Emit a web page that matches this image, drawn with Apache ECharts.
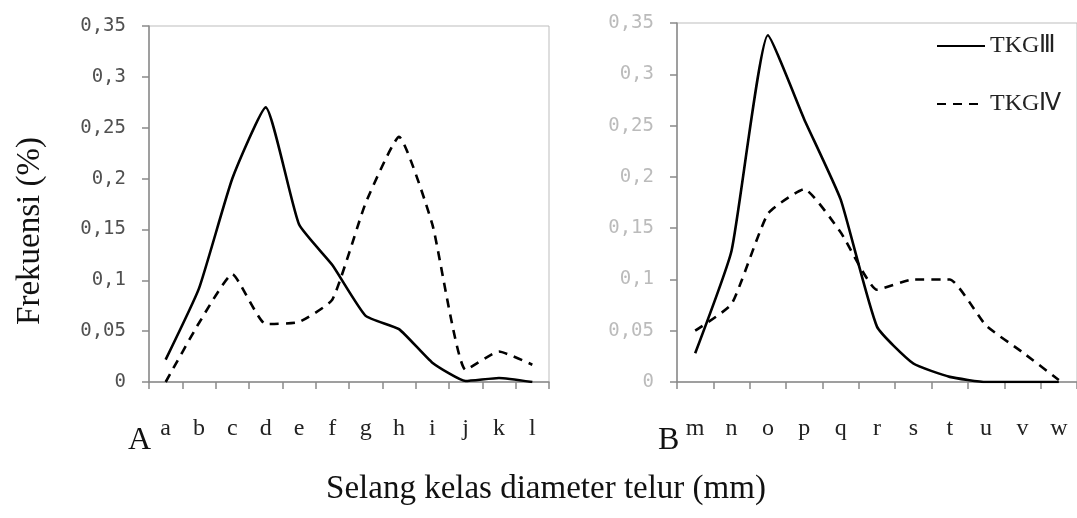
<!DOCTYPE html>
<html>
<head>
<meta charset="utf-8">
<script src="https://cdn.jsdelivr.net/npm/echarts@6/dist/echarts.min.js"></script>
<style>
  html, body { margin: 0; padding: 0; background: #fff; }
  #chart { width: 1077px; height: 518px; }
</style>
</head>
<body>
<div id="chart"></div>
<script>
  // kelas diameter, panel A dan B
  var catsA = ['a', 'b', 'c', 'd', 'e', 'f', 'g', 'h', 'i', 'j', 'k', 'l'];
  var catsB = ['m', 'n', 'o', 'p', 'q', 'r', 's', 't', 'u', 'v', 'w'];

  // frekuensi (%)
  var tkg1 = [0.022, 0.092, 0.2, 0.27, 0.155, 0.115, 0.065, 0.052, 0.019, 0.001, 0.004, 0.0];
  var tkg2 = [0.0, 0.058, 0.106, 0.057, 0.059, 0.081, 0.176, 0.241, 0.155, 0.012, 0.03, 0.017];
  var tkg3 = [0.028, 0.128, 0.338, 0.256, 0.178, 0.054, 0.018, 0.005, 0.0, 0.0, 0.0];
  var tkg4 = [0.05, 0.076, 0.164, 0.188, 0.146, 0.09, 0.1, 0.1, 0.055, 0.029, 0.002];

  var yMin = 0, yMax = 0.35, yStep = 0.05;

  var serif = '"Liberation Serif", "Times New Roman", serif';
  var mono = '"DejaVu Sans Mono", monospace';

  function fmt(v) {
    return String(+v.toFixed(2)).replace('.', ',');
  }

  function yAxisOf(idx, labelColor) {
    return {
      type: 'value',
      gridIndex: idx,
      min: yMin,
      max: yMax,
      interval: yStep,
      splitLine: { show: false },
      axisLine: { show: true, lineStyle: { color: '#8a8a8a', width: 1.5 } },
      axisTick: { show: true, length: 7, lineStyle: { color: '#8a8a8a', width: 1.5 } },
      axisLabel: {
        formatter: fmt,
        color: labelColor,
        fontFamily: mono,
        fontSize: 19,
        margin: 23
      }
    };
  }

  function xAxisOf(idx, cats) {
    return {
      type: 'category',
      gridIndex: idx,
      data: cats,
      boundaryGap: true,
      axisLine: { show: true, lineStyle: { color: '#8a8a8a', width: 1.5 } },
      axisTick: { show: true, length: 7, alignWithLabel: false, lineStyle: { color: '#8a8a8a', width: 1.5 } },
      axisLabel: {
        color: '#222',
        fontFamily: serif,
        fontSize: 24,
        margin: 35,
        interval: 0
      }
    };
  }

  function lineOf(name, idx, data, dashed) {
    return {
      name: name,
      type: 'line',
      xAxisIndex: idx,
      yAxisIndex: idx,
      data: data,
      smooth: 0.15,
      symbol: 'none',
      showSymbol: false,
      lineStyle: {
        color: '#000',
        width: 2.6,
        type: dashed ? [9, 7] : 'solid'
      },
      itemStyle: { color: '#000' }
    };
  }

  var chart = echarts.init(document.getElementById('chart'));
  chart.setOption({
    animation: false,
    backgroundColor: '#fff',
    grid: [
      { left: 149, top: 26, width: 400, height: 356, show: true, borderColor: '#bdbdbd', borderWidth: 1 },
      { left: 677, top: 23, width: 405, height: 359, show: true, borderColor: '#bdbdbd', borderWidth: 1 }
    ],
    xAxis: [xAxisOf(0, catsA), xAxisOf(1, catsB)],
    yAxis: [yAxisOf(0, '#505050'), yAxisOf(1, '#bbb')],
    legend: {
      data: ['TKGⅢ', 'TKGⅣ'],
      orient: 'vertical',
      left: 936,
      top: 34,
      padding: 0,
      itemWidth: 48,
      itemHeight: 14,
      itemGap: 34,
      itemStyle: { opacity: 0 },
      textStyle: { fontFamily: serif, fontSize: 24, color: '#222' }
    },
    series: [
      lineOf('TKGⅠ', 0, tkg1, false),
      lineOf('TKGⅡ', 0, tkg2, true),
      lineOf('TKGⅢ', 1, tkg3, false),
      lineOf('TKGⅣ', 1, tkg4, true)
    ],
    graphic: [
      {
        type: 'text',
        x: 30,
        y: 231,
        rotation: Math.PI / 2,
        style: {
          text: 'Frekuensi (%)',
          font: '33px ' + serif,
          fill: '#111',
          align: 'center',
          verticalAlign: 'middle'
        }
      },
      {
        type: 'text',
        x: 546,
        y: 489,
        style: {
          text: 'Selang kelas diameter telur (mm)',
          font: '33px ' + serif,
          fill: '#111',
          align: 'center',
          verticalAlign: 'middle'
        }
      },
      {
        type: 'text',
        x: 128,
        y: 441,
        style: { text: 'A', font: '32px ' + serif, fill: '#111', verticalAlign: 'middle' }
      },
      {
        type: 'text',
        x: 658,
        y: 441,
        style: { text: 'B', font: '32px ' + serif, fill: '#111', verticalAlign: 'middle' }
      }
    ]
  });
</script>
</body>
</html>
